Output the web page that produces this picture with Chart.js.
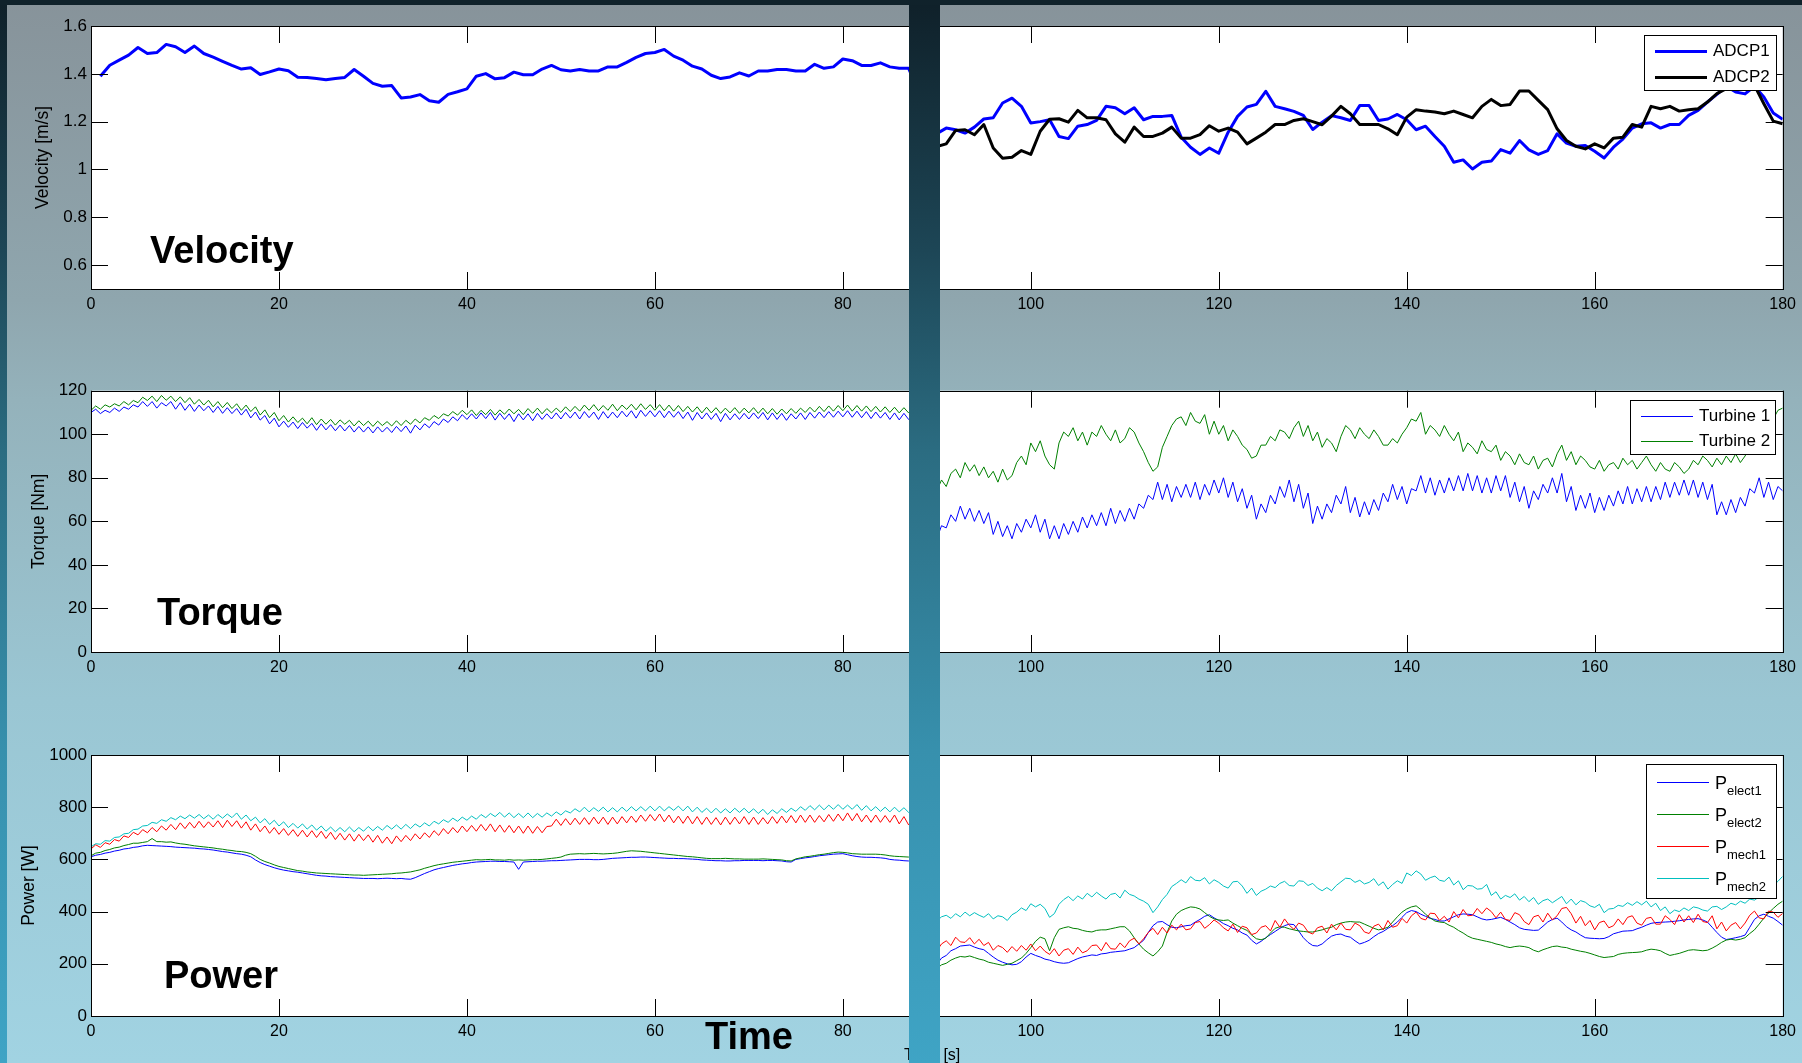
<!doctype html>
<html>
<head>
<meta charset="utf-8">
<title>Velocity, torque and power</title>
<script src="https://cdn.jsdelivr.net/npm/chart.js@4.4.1/dist/chart.umd.min.js"></script>
<style>
  html, body { margin: 0; padding: 0; }
  body {
    width: 1802px; height: 1063px; overflow: hidden; position: relative;
    background: linear-gradient(to bottom, #87939a 0px, #8fa6ae 300px, #94b2bb 400px, #9ac6d3 700px, #a1d3e2 1063px);
  }
  canvas { position: absolute; left: 0; }
  .slide {
    position: absolute; z-index: 5;
    background: linear-gradient(to bottom, #0f2029 0px, #1d4656 250px, #2b6c81 450px, #3790ad 750px, #3fa4c5 1063px);
  }
</style>
</head>
<body>
<canvas id="velocity" width="1802" height="320" style="top:0px"></canvas>
<canvas id="torque" width="1802" height="320" style="top:360px"></canvas>
<canvas id="power" width="1802" height="365" style="top:725px"></canvas>
<div class="slide" style="left:0;top:0;width:7px;height:1063px"></div>
<div class="slide" style="left:909px;top:0;width:31px;height:1063px"></div>
<div style="position:absolute;z-index:6;left:0;top:0;width:1802px;height:5px;background:#10222b"></div>
<script>
const FONT = '"Liberation Sans", Arial, sans-serif';

// axis ticks
const timeTicks = [0, 20, 40, 60, 80, 100, 120, 140, 160, 180];
const velTicks = [0.6, 0.8, 1, 1.2, 1.4, 1.6];
const torqueTicks = [0, 20, 40, 60, 80, 100, 120];
const powerTicks = [0, 200, 400, 600, 800, 1000];

// velocity [m/s], one sample per second
// left run: t = 1..87 s, right run: t = 90..180 s
const adcp1Left = [
  1.39,1.436,1.457,1.478,1.51,1.485,1.489,1.523,1.513,1.489,
  1.516,1.485,1.47,1.452,1.435,1.42,1.425,1.397,1.408,1.42,
  1.413,1.386,1.385,1.38,1.375,1.38,1.385,1.418,1.39,1.36,
  1.348,1.351,1.299,1.303,1.313,1.287,1.281,1.314,1.325,1.337,
  1.39,1.401,1.379,1.384,1.407,1.396,1.396,1.42,1.435,1.417,
  1.412,1.418,1.412,1.412,1.429,1.429,1.448,1.469,1.485,1.489,
  1.502,1.474,1.457,1.432,1.42,1.394,1.38,1.387,1.404,1.391,
  1.412,1.412,1.418,1.418,1.412,1.412,1.44,1.423,1.429,1.462,
  1.455,1.435,1.435,1.446,1.429,1.423,1.423
];
const adcp1Right = [
  1.15,1.173,1.166,1.152,1.177,1.211,1.216,1.278,1.298,1.264,
  1.194,1.2,1.208,1.138,1.129,1.181,1.188,1.205,1.264,1.258,
  1.233,1.258,1.208,1.222,1.222,1.226,1.135,1.093,1.063,1.09,
  1.068,1.156,1.222,1.261,1.272,1.327,1.264,1.254,1.243,1.226,
  1.167,1.198,1.225,1.216,1.205,1.267,1.267,1.205,1.211,1.23,
  1.208,1.166,1.181,1.138,1.097,1.03,1.04,1.002,1.03,1.035,
  1.083,1.068,1.121,1.082,1.063,1.079,1.149,1.11,1.097,1.1,
  1.076,1.048,1.093,1.127,1.173,1.191,1.195,1.173,1.188,1.188,
  1.226,1.247,1.282,1.314,1.348,1.324,1.316,1.348,1.303,1.236,
  1.21
];
const adcp2Right = [
  1.096,1.107,1.163,1.166,1.145,1.188,1.09,1.047,1.051,1.079,
  1.063,1.16,1.21,1.212,1.198,1.247,1.216,1.216,1.208,1.149,
  1.114,1.177,1.138,1.138,1.152,1.177,1.131,1.131,1.146,1.183,
  1.16,1.173,1.156,1.107,1.131,1.156,1.188,1.188,1.205,1.212,
  1.2,1.187,1.223,1.264,1.233,1.188,1.188,1.188,1.17,1.145,
  1.219,1.25,1.244,1.24,1.233,1.244,1.23,1.216,1.264,1.293,
  1.267,1.272,1.328,1.328,1.289,1.25,1.17,1.121,1.097,1.086,
  1.107,1.09,1.131,1.135,1.188,1.177,1.264,1.254,1.264,1.244,
  1.25,1.254,1.282,1.317,1.338,1.345,1.352,1.352,1.275,1.202,
  1.191
];

// torque [Nm], one sample every 0.5 s from 0 to 180 s
const turbine1 = [
  110,111.5,109.5,111,110,112,110.5,112.5,111.5,113.5,112.5,115,112.8,115,112,114.5,113,115,111.5,114.5,
  111,113.8,110.5,113.4,110.8,113,110,112.8,109.6,112.2,109.5,111.8,108.8,111.5,107.5,110.2,106.5,108.6,104.8,107.4,
  103.4,106,103.2,105.6,102.6,105.4,102.8,105,101.8,104.8,102,104.4,101.6,104.2,101.5,104,101,103.6,101,103.4,
  100.6,103.4,101,103.2,100.8,103.6,101.2,103.8,100.5,104.2,102,104.8,103,105.8,104.2,107,105.4,108,106.2,109,
  106.8,109.4,107,109.8,107.2,110,106.5,109.6,106.8,109.4,105.8,109.4,106.6,109.4,106.2,109.6,106.8,109.4,107,109.8,
  107,110,107.4,110.2,107,110.4,107.6,110.2,106.8,110.4,107.4,110.2,107.6,110.6,108,110.8,107.4,111,108.2,110.8,
  108,110.8,107.6,110.6,107.8,110.4,107.2,110.2,106.4,110,107,109.8,106.8,109.6,105.8,109.6,106.6,109.4,106.8,109.6,
  107,109.8,107.2,110,106.6,109.8,106.8,109.6,106.4,109.4,107,109.8,106.8,110,107.4,110.2,107.6,110.4,107.8,110.6,
  108,110.8,107.8,110.6,107.6,110.4,107.2,110.2,107.4,110,106.8,109.8,106.6,109.6,106.8,109.2,60,58,57,55,
  52,58,57,63,60,67,61,66,60,65,59,64,54,60,53,58,52,59,55,61,
  57,63,55,61,52,58,52,59,54,60,55,62,57,63,58,64,58,66,59,65,
  60,66,61,68,66,72,70,78,70,77,69,76,71,77,71,78,70,77,72,79,
  73,80,71,78,69,75,66,72,61,68,64,72,68,76,71,79,69,77,66,73,
  59,67,61,68,64,72,68,76,64,71,62,69,63,70,65,73,69,77,70,76,
  68,75,74,81,73,80,72,79,73,80,74,81,74,82,74,81,73,80,73,81,
  74,81,71,78,69,76,66,74,70,77,73,80,73,82,69,76,65,72,66,73,
  64,71,65,72,67,74,68,76,68,75,69,76,69,76,70,78,71,78,72,79,
  72,79,71,78,70,77,63,69,63,70,64,71,67,75,73,80,71,78,70,76,
  74
];
const turbine2 = [
  111,113,111.5,113.5,112.5,114,113,115,113.5,115.5,114.5,117,115.5,117.5,115,117.8,115.6,117.5,115,117.2,
  114.5,116.8,113.8,116,113.4,115.6,112.6,115,112.2,114.6,111.8,114,111,113.4,110.4,112.6,108.8,111.2,107.6,110,
  106.2,108.6,105.6,108,105.4,107.4,104.8,107.6,104.4,107,104.6,106.8,104.2,106.6,104.6,106.4,103.8,106.2,104,106,
  103.6,106,104,105.8,103.8,106.2,104,106.4,104.6,107,105.2,107.6,106.4,108.6,107.2,109.4,108.4,110.4,108.8,111,
  109,111.2,108.6,111,109,111.4,108.8,111.2,109.2,111.6,109.4,111.4,109,111.8,109.6,112,109.4,111.8,109.8,112,
  110,112.6,110.4,112.8,110.6,113.4,111,113.6,110.8,113.2,111,113.8,110.8,113.4,111.4,113.8,111.2,114,111.4,113.6,
  111,113.6,110.8,113.4,110.6,113.2,110.4,112.8,110.2,112.6,109.8,112.4,109.8,112.2,109.6,112,109.8,112.2,109.6,112,
  109.8,112.2,109.6,112,109.4,111.8,109.2,111.6,109.4,111.8,109.6,112,110,112.4,110.2,112.8,110.4,113,110.6,113.2,
  110.8,113.4,110.6,113.2,110.6,113,110.4,112.8,110.2,112.6,110,112.4,109.8,112.2,109.8,112,78,80,79,77,
  74,79,76,82,84,80,87,83,86,81,85,80,83,78,84,79,81,87,90,86,
  96,92,97,90,86,84,96,101,99,103,97,101,95,101,99,104,100,97,102,96,
  98,103,101,96,92,87,83,85,94,99,104,107,108,104,110,106,105,109,100,106,
  100,104,97,102,99,95,93,89,90,95,95,99,97,102,101,98,103,106,99,104,
  97,101,94,98,96,92,99,104,102,98,103,100,98,102,99,95,95,98,96,100,
  103,107,106,110,100,104,102,99,104,100,97,101,92,96,94,91,97,93,92,95,
  88,92,90,86,91,87,86,90,84,88,89,85,91,95,88,92,86,90,88,85,
  84,88,83,86,87,84,89,86,88,84,87,90,86,83,87,84,83,87,85,82,
  84,88,86,90,88,85,89,86,90,87,91,87,90,94,93,98,99,104,107,111,
  112
];

// power [W], one sample every 0.5 s from 0 to 180 s
const pElect1 = [
  610,616,619,624,627,632,635,640,642,646,648,652,654,653,652,651,650,649,647,646,
  645,644,643,641,640,638,636,633,630,628,625,622,620,616,610,598,588,580,574,568,
  563,559,556,553,551,548,545,542,539,537,536,534,533,532,531,530,529,528,527,527,
  527,526,527,528,527,526,527,525,524,530,538,546,553,560,565,569,573,577,580,583,
  585,588,590,591,592,593,593,592,592,591,590,562,590,591,592,593,593,594,595,595,
  596,597,598,599,600,600,600,599,599,600,602,604,605,606,607,608,608,609,609,608,
  607,606,605,604,604,603,603,602,601,600,598,597,596,595,595,594,594,595,595,596,
  596,596,596,595,596,596,595,594,591,590,600,603,606,608,611,614,616,618,620,621,
  622,618,614,611,609,608,608,607,606,604,600,598,597,595,594,593,196,200,204,210,
  198,222,232,250,258,268,270,272,264,258,254,240,226,214,206,200,196,198,208,226,
  240,232,226,218,214,208,204,202,204,212,220,226,230,234,232,238,240,244,246,248,
  250,256,262,276,290,320,346,360,362,350,340,338,342,346,348,360,370,382,388,376,
  366,354,346,336,330,318,310,290,276,286,300,312,324,336,346,352,350,326,300,282,
  270,268,276,292,306,312,314,306,302,288,276,282,290,304,316,324,336,346,360,378,
  396,404,400,390,382,374,370,364,364,372,380,388,391,390,388,380,372,368,370,374,
  378,370,360,350,338,332,330,328,329,344,360,370,375,360,342,330,322,310,300,298,
  297,296,297,304,315,320,325,326,327,334,340,348,355,358,359,360,361,363,365,368,
  370,372,373,368,360,340,320,302,293,296,300,304,310,340,370,384,390,382,375,362,
  348
];
const pElect2 = [
  614,624,627,634,638,644,647,653,657,662,662,665,668,680,668,668,666,667,663,660,
  658,655,652,650,648,646,644,641,639,636,634,631,630,627,622,612,600,592,586,579,
  573,569,565,561,557,555,552,550,548,547,546,545,544,543,542,541,540,540,539,540,
  541,542,543,544,545,547,548,550,552,556,560,566,571,576,580,583,586,589,591,593,
  595,597,599,598,599,600,598,598,597,599,597,598,597,598,599,599,600,602,604,606,
  609,616,620,621,622,621,622,623,622,621,622,623,625,628,631,633,632,631,629,627,
  625,623,621,619,617,615,613,611,610,608,606,604,603,603,603,604,603,602,602,601,
  601,601,601,602,601,600,599,598,595,594,602,606,610,612,615,618,620,623,626,628,
  627,625,622,621,620,620,620,620,619,617,614,612,611,610,609,608,190,186,182,188,
  182,196,202,214,222,228,226,230,224,218,214,206,202,198,194,198,202,212,222,240,
  262,286,302,296,250,300,332,338,342,336,334,328,324,322,328,330,330,334,338,342,
  342,326,300,276,256,242,230,246,268,320,364,390,404,412,418,416,410,396,382,372,
  368,366,368,356,346,336,328,310,296,292,298,318,336,342,340,334,330,326,324,322,
  322,326,330,336,340,350,356,360,362,360,360,352,344,336,330,334,340,360,380,398,
  410,418,422,408,390,376,364,360,358,348,340,328,318,306,298,294,290,286,282,276,
  272,266,262,266,268,266,262,252,246,254,260,266,268,264,262,256,252,248,245,240,
  234,228,224,226,228,236,240,242,243,244,246,252,256,254,250,240,232,236,240,246,
  252,254,252,250,252,260,270,282,291,294,291,294,300,316,330,352,375,395,412,428,
  440
];
const pMech1 = [
  640,656,646,664,658,676,670,690,684,704,694,714,702,722,706,728,712,734,714,740,
  718,742,720,746,722,744,724,748,722,750,726,748,720,744,712,736,706,728,700,722,
  696,718,692,714,688,712,686,710,684,708,680,704,676,700,674,698,670,696,672,694,
  666,692,662,686,660,690,668,692,672,698,678,702,684,710,692,718,698,722,702,728,
  706,730,708,734,710,736,706,732,704,730,702,728,700,728,700,726,702,726,728,754,
  730,756,732,758,734,760,734,762,736,762,734,762,736,764,740,766,742,770,746,772,
  748,774,744,770,740,766,738,766,736,764,734,762,734,760,732,762,734,762,736,764,
  734,762,734,760,736,764,738,766,740,768,740,770,742,770,742,768,744,772,746,774,
  748,778,748,776,744,770,742,770,742,768,742,770,736,764,732,758,268,284,276,290,
  250,276,288,270,302,284,282,300,276,294,270,282,252,270,262,244,266,248,270,252,
  276,250,268,248,236,258,230,252,258,236,264,242,250,270,272,250,282,258,256,280,
  262,288,298,276,296,320,336,312,340,318,348,330,352,330,334,358,362,336,350,368,
  356,338,326,352,320,344,338,312,318,340,346,326,366,340,372,348,332,356,348,322,
  314,338,344,318,352,330,356,332,330,356,346,322,316,344,352,330,366,340,346,374,
  356,384,398,374,368,394,392,366,382,360,400,376,408,384,386,412,392,414,400,376,
  398,370,366,396,388,362,350,380,386,360,394,368,384,412,416,392,356,382,346,366,
  330,358,364,338,346,372,350,378,384,356,348,374,378,352,352,384,370,350,388,360,
  384,358,390,362,358,384,334,360,326,348,358,334,356,386,402,376,372,402,398,378,
  393
];
const pMech2 = [
  648,660,658,672,670,684,686,698,700,714,716,728,730,742,738,752,746,760,752,766,
  756,770,758,772,756,770,754,772,758,774,760,778,754,770,748,762,740,756,734,750,
  728,744,722,738,720,736,716,732,712,728,708,724,706,722,706,724,706,722,708,726,
  710,726,712,730,716,732,716,734,718,736,724,740,728,746,736,752,742,758,746,762,
  750,766,754,772,760,776,764,780,762,778,760,776,760,778,760,776,762,778,766,782,
  770,786,778,794,782,800,782,798,784,800,782,798,782,800,784,802,786,802,786,804,
  786,804,786,802,788,804,786,804,782,800,780,796,778,796,778,794,778,796,780,796,
  778,794,776,792,772,790,776,794,780,796,784,802,788,806,790,808,790,808,792,810,
  792,808,792,810,788,806,786,802,784,800,782,800,782,798,780,796,380,372,376,370,
  364,380,386,374,392,380,398,384,396,386,378,392,372,384,380,366,388,398,414,404,
  430,418,428,412,378,392,428,446,458,442,460,448,470,456,474,460,448,466,470,452,
  482,466,460,448,440,428,396,418,446,466,496,508,522,510,534,520,518,530,506,522,
  512,498,490,514,516,498,470,490,462,478,486,498,492,508,516,500,498,518,516,500,
  508,490,480,492,480,500,514,528,526,512,520,506,512,526,500,514,486,504,518,508,
  548,538,556,544,520,530,536,520,516,532,502,518,484,500,498,486,488,504,462,476,
  448,462,454,468,444,458,438,454,428,442,448,434,446,458,430,448,426,442,436,422,
  416,428,396,410,412,424,420,434,424,438,426,440,418,432,404,418,392,406,400,414,
  404,418,414,406,402,418,420,408,418,432,426,440,432,448,444,456,466,480,500,516,
  535
];

const perSecond = (arr, t0) => arr.map((v, i) => ({ x: t0 + i, y: v }));
const perHalfSecond = (arr) => arr.map((v, i) => ({ x: i * 0.5, y: v }));

// white axes box
const whiteArea = {
  id: 'whiteArea',
  beforeDraw(chart) {
    const { ctx, chartArea: a } = chart;
    ctx.save();
    ctx.fillStyle = '#fff';
    ctx.fillRect(a.left, a.top, a.right - a.left, a.bottom - a.top);
    ctx.restore();
  }
};

// matlab style box with inward ticks on all four sides
const frame = {
  id: 'frame',
  afterDatasetsDraw(chart) {
    const { ctx, chartArea: a, scales: { x, y } } = chart;
    const L = 17;
    ctx.save();
    ctx.strokeStyle = '#000';
    ctx.lineWidth = 1;
    ctx.beginPath();
    x.ticks.forEach(t => {
      const px = Math.round(x.getPixelForValue(t.value)) + 0.5;
      ctx.moveTo(px, a.top); ctx.lineTo(px, a.top + L);
      ctx.moveTo(px, a.bottom); ctx.lineTo(px, a.bottom - L);
    });
    y.ticks.forEach(t => {
      const py = Math.round(y.getPixelForValue(t.value)) + 0.5;
      ctx.moveTo(a.left, py); ctx.lineTo(a.left + L, py);
      ctx.moveTo(a.right, py); ctx.lineTo(a.right - L, py);
    });
    ctx.stroke();
    ctx.strokeRect(Math.round(a.left) + 0.5, Math.round(a.top) + 0.5,
      Math.round(a.right - a.left), Math.round(a.bottom - a.top));
    ctx.restore();
  }
};

// boxed legend in the upper right corner, labels like 'P_elect1' get a subscript
const boxLegend = {
  id: 'boxLegend',
  afterDraw(chart, args, o) {
    const { ctx, chartArea: a } = chart;
    const left = Math.round(a.right - o.inset - o.width);
    const top = Math.round(a.top + o.top);
    ctx.save();
    ctx.fillStyle = '#fff';
    ctx.fillRect(left, top, o.width, o.height);
    ctx.strokeStyle = '#000';
    ctx.lineWidth = 1;
    ctx.strokeRect(left + 0.5, top + 0.5, o.width, o.height);
    chart.data.datasets.forEach((ds, i) => {
      const ry = Math.round(top + o.first + i * o.gap) + 0.5;
      ctx.strokeStyle = ds.borderColor;
      ctx.lineWidth = ds.borderWidth;
      ctx.beginPath();
      ctx.moveTo(left + 11, ry);
      ctx.lineTo(left + 63, ry);
      ctx.stroke();
      ctx.fillStyle = '#000';
      const parts = ds.label.split('_');
      if (parts.length > 1) {
        ctx.textBaseline = 'alphabetic';
        ctx.font = '18px ' + FONT;
        ctx.fillText(parts[0], left + 69, ry + 6);
        const w = ctx.measureText(parts[0]).width;
        ctx.font = '13px ' + FONT;
        ctx.fillText(parts[1], left + 69 + w, ry + 12.5);
      } else {
        ctx.textBaseline = 'middle';
        ctx.font = '17px ' + FONT;
        ctx.fillText(ds.label, left + 69, ry);
      }
    });
    ctx.restore();
  }
};

// free text: panel names and the x axis label
const panelText = {
  id: 'panelText',
  afterDraw(chart, args, o) {
    const ctx = chart.ctx;
    ctx.save();
    ctx.fillStyle = '#000';
    ctx.textBaseline = 'alphabetic';
    o.items.forEach(it => {
      ctx.font = (it.font || 'bold 38px') + ' ' + FONT;
      ctx.fillText(it.text, it.x, it.y);
    });
    ctx.restore();
  }
};

function xAxis(height) {
  return {
    type: 'linear', min: 0, max: 180,
    afterBuildTicks: s => { s.ticks = timeTicks.map(v => ({ value: v })); },
    afterFit: s => { s.height = height; },
    grid: { display: false, drawTicks: false },
    border: { display: false },
    ticks: { color: '#000', font: { family: FONT, size: 16 }, padding: 6, maxRotation: 0, autoSkip: false }
  };
}

function yAxis(min, max, ticks, title, titleX) {
  return {
    type: 'linear', min, max,
    afterBuildTicks: s => { s.ticks = ticks.map(v => ({ value: v })); },
    afterFit: s => { s.width = 91; },
    grid: { display: false, drawTicks: false },
    border: { display: false },
    ticks: { color: '#000', font: { family: FONT, size: 17 }, padding: 4, callback: v => String(v) },
    title: {
      display: true, text: title, color: '#000',
      font: { family: FONT, size: 17.5 }, padding: { top: titleX - 10.5, bottom: 0 }
    }
  };
}

function line(label, color, width, data, order) {
  return {
    label, data, order,
    borderColor: color, backgroundColor: color, borderWidth: width,
    pointRadius: 0, tension: 0, fill: false, borderJoinStyle: 'round'
  };
}

function makeChart(id, padTop, xHeight, y, datasets, legend, items) {
  return new Chart(document.getElementById(id).getContext('2d'), {
    type: 'line',
    data: { datasets },
    options: {
      responsive: false,
      animation: false,
      devicePixelRatio: 1,
      events: [],
      layout: { padding: { top: padTop, right: 19, bottom: 0, left: 0 } },
      plugins: {
        legend: { display: false },
        tooltip: { enabled: false },
        boxLegend: legend,
        panelText: { items }
      },
      scales: { x: xAxis(xHeight), y }
    },
    plugins: [whiteArea, frame, boxLegend, panelText]
  });
}

const velocityChart = makeChart('velocity', 26, 31,
  yAxis(0.5, 1.6, velTicks, 'Velocity [m/s]', 43),
  [
    line('ADCP1', '#0000ff', 3, perSecond(adcp1Left, 1).concat(perSecond(adcp1Right, 90)), 1),
    line('ADCP2', '#000000', 3, perSecond(adcp2Right, 90), 0)
  ],
  { width: 132, height: 55, inset: 7, top: 9, first: 16, gap: 26 },
  [{ text: 'Velocity', x: 150, y: 263 }]
);

const torqueChart = makeChart('torque', 30.7, 28,
  yAxis(0, 120, torqueTicks, 'Torque [Nm]', 39),
  [
    line('Turbine 1', '#0000ff', 1, perHalfSecond(turbine1), 1),
    line('Turbine 2', '#008000', 1, perHalfSecond(turbine2), 0)
  ],
  { width: 145, height: 54, inset: 8, top: 9, first: 16, gap: 25 },
  [{ text: 'Torque', x: 157, y: 265 }]
);

const powerChart = makeChart('power', 30, 74,
  yAxis(0, 1000, powerTicks, 'Power [W]', 29),
  [
    line('P_elect1', '#0000ff', 1, perHalfSecond(pElect1), 3),
    line('P_elect2', '#008000', 1, perHalfSecond(pElect2), 2),
    line('P_mech1', '#ff0000', 1, perHalfSecond(pMech1), 1),
    line('P_mech2', '#00bfbf', 1, perHalfSecond(pMech2), 0)
  ],
  { width: 130, height: 134, inset: 7, top: 9, first: 18, gap: 32 },
  [
    { text: 'Power', x: 164, y: 263 },
    { text: 'Time', x: 705, y: 324 },
    { text: 'Time [s]', x: 904, y: 335, font: '16px' }
  ]
);
</script>
</body>
</html>
